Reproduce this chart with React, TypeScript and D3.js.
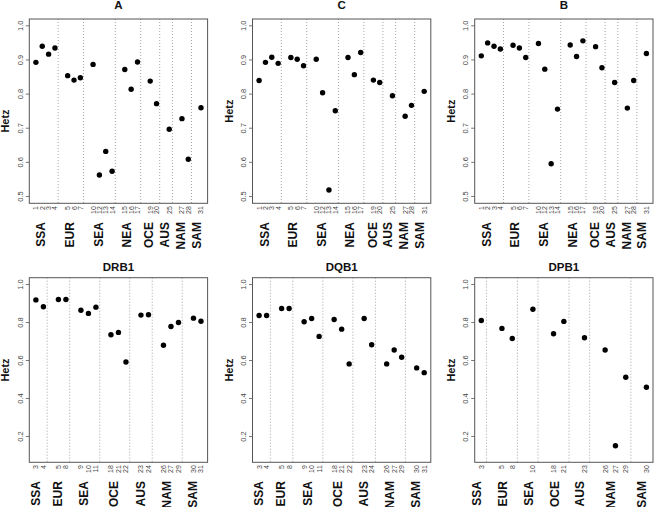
import React from 'react';
import * as d3 from 'd3';

const FONT = '"Liberation Sans", Arial, Helvetica, sans-serif';

// ---------- data ----------
const regionsTop = ['SSA', 'EUR', 'SEA', 'NEA', 'OCE', 'AUS', 'NAM', 'SAM'];
const samplesTop = [[1, 2, 3, 4], [5, 6, 7], [10, 12, 13, 14], [15, 16, 17], [19, 20], [25], [27, 28], [31]];
const hetzA = [[0.893, 0.940, 0.917, 0.935], [0.854, 0.841, 0.848], [0.887, 0.563, 0.632, 0.574], [0.872, 0.814, 0.894], [0.838, 0.772], [0.697], [0.728, 0.609], [0.760]];
const hetzC = [[0.840, 0.893, 0.908, 0.890], [0.907, 0.902, 0.883], [0.902, 0.804, 0.519, 0.751], [0.907, 0.857, 0.922], [0.841, 0.834], [0.795], [0.735, 0.767], [0.808]];
const hetzB = [[0.912, 0.950, 0.940, 0.932], [0.943, 0.935, 0.907], [0.948, 0.873, 0.596, 0.756], [0.944, 0.910, 0.956], [0.939, 0.877], [0.834], [0.759, 0.840], [0.919]];

const regionsBot = ['SSA', 'EUR', 'SEA', 'OCE', 'AUS', 'NAM', 'SAM'];
const samplesDR = [[3, 4], [5, 8], [9, 10, 11], [18, 21, 22], [23, 24], [26, 27, 29], [30, 31]];
const hetzDRB1 = [[0.919, 0.883], [0.921, 0.921], [0.865, 0.848, 0.881], [0.736, 0.748, 0.592], [0.839, 0.841], [0.680, 0.779, 0.800], [0.823, 0.807]];
const hetzDQB1 = [[0.837, 0.837], [0.874, 0.874], [0.804, 0.821, 0.727], [0.816, 0.765, 0.582], [0.821, 0.683], [0.582, 0.655, 0.617], [0.561, 0.536]];
const samplesDP = [[3], [5, 8], [10], [18, 21], [23], [26, 27, 29], [30]];
const hetzDPB1 = [[0.811], [0.769, 0.716], [0.870], [0.741, 0.806], [0.720], [0.655, 0.151, 0.512], [0.459]];

const ylimTop = [0.5, 1.0];
const yticksTop = [0.5, 0.6, 0.7, 0.8, 0.9, 1.0];
const ylimBot = [0.1, 1.0];
const yticksBot = [0.2, 0.4, 0.6, 0.8, 1.0];

// ---------- layout ----------
const COL_LEFT = [29.3, 252.5, 474.7];
const BOX_W = 178.3;
const ROWS = [
  { top: 19, bottom: 203.3, titleY: 8.6 },
  { top: 277.7, bottom: 462.3, titleY: 271 },
];

type Panel = {
  title: string;
  regions: string[];
  samples: number[][];
  values: number[][];
  ylim: number[];
  yticks: number[];
  col: number;
  row: number;
  ylabelY?: number;
};

const panels: Panel[] = [
  { title: 'A', regions: regionsTop, samples: samplesTop, values: hetzA, ylim: ylimTop, yticks: yticksTop, col: 0, row: 0, ylabelY: 121 },
  { title: 'C', regions: regionsTop, samples: samplesTop, values: hetzC, ylim: ylimTop, yticks: yticksTop, col: 1, row: 0 },
  { title: 'B', regions: regionsTop, samples: samplesTop, values: hetzB, ylim: ylimTop, yticks: yticksTop, col: 2, row: 0 },
  { title: 'DRB1', regions: regionsBot, samples: samplesDR, values: hetzDRB1, ylim: ylimBot, yticks: yticksBot, col: 0, row: 1 },
  { title: 'DQB1', regions: regionsBot, samples: samplesDR, values: hetzDQB1, ylim: ylimBot, yticks: yticksBot, col: 1, row: 1 },
  { title: 'DPB1', regions: regionsBot, samples: samplesDP, values: hetzDPB1, ylim: ylimBot, yticks: yticksBot, col: 2, row: 1 },
];

function PanelView({ p }: { p: Panel }) {
  const left = COL_LEFT[p.col];
  const right = left + BOX_W;
  const { top, bottom, titleY } = ROWS[p.row];

  const pts: { pos: number; s: number; v: number }[] = [];
  const groups: { start: number; end: number; name: string }[] = [];
  let pos = 0;
  p.samples.forEach((grp, gi) => {
    const start = pos;
    grp.forEach((s, si) => {
      pts.push({ pos, s, v: p.values[gi][si] });
      pos++;
    });
    groups.push({ start, end: pos - 1, name: p.regions[gi] });
    pos++;
  });
  const maxPos = pos - 2;
  const xpad = maxPos * 0.04;
  const x = d3.scaleLinear().domain([-xpad, maxPos + xpad]).range([left, right]);
  const ypad = (p.ylim[1] - p.ylim[0]) * 0.04;
  const y = d3.scaleLinear().domain([p.ylim[0] - ypad, p.ylim[1] + ypad]).range([bottom, top]);
  const fmt = d3.format('.1f');
  const cy = p.ylabelY ?? (top + bottom) / 2;

  return (
    <g>
      {/* separators */}
      {groups.slice(0, -1).map((g, i) => (
        <line key={'sep' + i} x1={x(g.end + 0.5)} x2={x(g.end + 0.5)} y1={top} y2={bottom}
          stroke="#9a9a9a" strokeWidth={0.9} strokeDasharray="1,2" />
      ))}
      {/* box */}
      <rect x={left} y={top} width={BOX_W} height={bottom - top} fill="none" stroke="#555" strokeWidth={1} />
      {/* y axis */}
      {p.yticks.map((t) => (
        <g key={'yt' + t}>
          <line x1={left - 3.5} x2={left} y1={y(t)} y2={y(t)} stroke="#555" strokeWidth={0.8} />
          <text transform={`translate(${left - 6.3},${y(t)}) rotate(-90)`} textAnchor="middle"
            fontSize={7.5} fill="#444" fontFamily={FONT}>{fmt(t)}</text>
        </g>
      ))}
      <text transform={`translate(${left - 20},${cy}) rotate(-90)`} textAnchor="middle"
        fontSize={11} fontWeight="bold" fill="#111" fontFamily={FONT}>Hetz</text>
      {/* title */}
      <text x={(left + right) / 2} y={titleY} textAnchor="middle" fontSize={11.5} fontWeight="bold"
        fill="#111" fontFamily={FONT}>{p.title}</text>
      {/* sample labels */}
      {pts.map((d, i) => (
        <text key={'sl' + i} transform={`translate(${x(d.pos)},${bottom + 2.8}) rotate(-90)`}
          textAnchor="end" dominantBaseline="central" fontSize={7} fill="#444" fontFamily={FONT}>{d.s}</text>
      ))}
      {/* region labels */}
      {groups.map((g, i) => (
        <text key={'rl' + i} transform={`translate(${x((g.start + g.end) / 2)},${bottom + 18.8}) rotate(-90)`}
          textAnchor="end" fontSize={12} fontWeight="bold" fill="#111" fontFamily={FONT}>{g.name}</text>
      ))}
      {/* points */}
      {pts.map((d, i) => (
        <circle key={'pt' + i} cx={x(d.pos)} cy={y(d.v)} r={2.7} fill="#000" />
      ))}
    </g>
  );
}

export default function App() {
  return (
    <svg width={654} height={507} viewBox="0 0 654 507"
      style={{ position: 'absolute', left: 0, top: 0, background: '#fff' }}>
      <rect x={0} y={0} width={654} height={507} fill="#fff" />
      {panels.map((p) => (
        <PanelView key={p.title} p={p} />
      ))}
    </svg>
  );
}
